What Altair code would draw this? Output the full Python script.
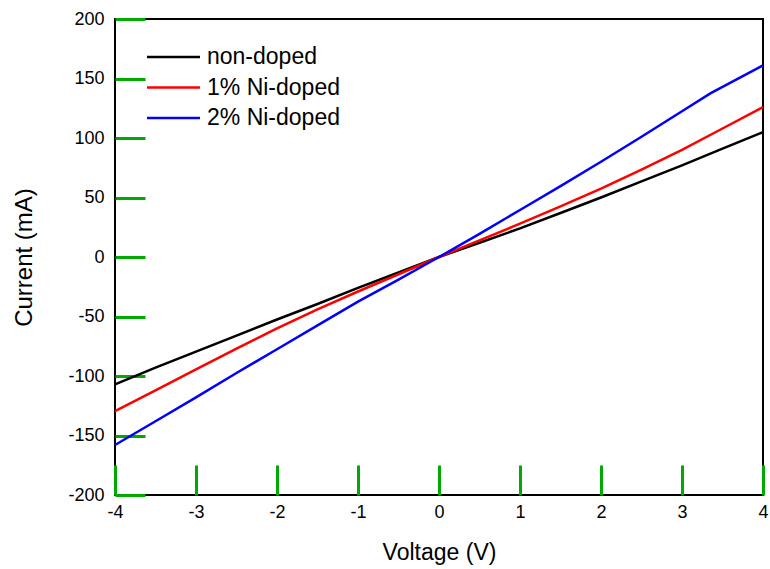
import altair as alt
import pandas as pd

# ---- data ----
voltage = [-4, -3.5, -3, -2.5, -2, -1.5, -1, -0.5, 0, 0.5, 1, 1.5, 2, 2.5, 3, 3.5, 4]
non_doped = [-107, -93, -79.5, -66, -52.5, -39.5, -26, -13, 0, 12, 24, 37, 50, 63.5, 77, 91, 105]
ni_1 = [-129.5, -112, -94.5, -77, -60, -44, -29, -14.5, 0, 14, 28, 42.5, 57.5, 73.5, 90, 108, 126]
voltage_2 = [-4, -3.5, -3, -2.5, -2, -1.5, -1, -0.5, 0, 0.5, 1, 1.5, 2, 2.5, 3, 3.35, 4]
ni_2 = [-158, -138, -118, -97.5, -77.5, -57.5, -37.5, -19, 0, 19.5, 39.5, 59.5, 80, 101, 122.5, 137.5, 161]

series_names = ["non-doped", "1% Ni-doped", "2% Ni-doped"]
series_colors = ["#000000", "#ff0000", "#0000ff"]

x_ticks = [-4, -3, -2, -1, 0, 1, 2, 3, 4]
y_ticks = [-200, -150, -100, -50, 0, 50, 100, 150, 200]

rows = []
for name, xs, vals in zip(series_names, [voltage, voltage, voltage_2], [non_doped, ni_1, ni_2]):
    for v, c in zip(xs, vals):
        rows.append({"Voltage": v, "Current": c, "Series": name})
df = pd.DataFrame(rows)

FONT = "Liberation Sans"
W, H = 648, 476
TICK = 30  # diagnostic: exaggerated inward ticks

xscale = alt.Scale(domain=[-4, 4], nice=False, zero=False)
yscale = alt.Scale(domain=[-200, 200], nice=False, zero=False)

x_axis = alt.Axis(values=x_ticks, domain=False, grid=False, offset=-TICK,
                  ticks=True, tickSize=TICK, tickWidth=3, tickColor="#00aa00",
                  labelFlush=False,
                  labelExpr="datum.value + ''", labelFontSize=18,
                  labelPadding=8, labelColor="#000", labelFont=FONT,
                  title="Voltage (V)", titleFontSize=23, titleFont=FONT,
                  titleFontWeight="normal", titleColor="#000",
                  titleBaseline="alphabetic", titleY=64 + TICK)
y_axis = alt.Axis(values=y_ticks, domain=False, grid=False, offset=-TICK,
                  ticks=True, tickSize=TICK, tickWidth=3, tickColor="#00aa00",
                  labelFlush=False,
                  labelExpr="datum.value + ''", labelFontSize=18,
                  labelPadding=11, labelColor="#000", labelFont=FONT,
                  title="Current (mA)", titleFontSize=24, titleFont=FONT,
                  titleFontWeight="normal", titleColor="#000",
                  titleBaseline="alphabetic", titleX=-84 - TICK, titleY=H / 2,
                  titleAngle=270)

chart = alt.Chart(df).mark_line(strokeWidth=2.5).encode(
    x=alt.X("Voltage:Q", scale=xscale, axis=x_axis),
    y=alt.Y("Current:Q", scale=yscale, axis=y_axis),
    color=alt.Color("Series:N",
                    scale=alt.Scale(domain=series_names, range=series_colors),
                    sort=series_names,
                    legend=alt.Legend(title=None, orient="none", legendX=47, legendY=26.5,
                                      symbolType="M-2.65,0H2.65", symbolSize=400,
                                      symbolStrokeWidth=2.5, labelFontSize=23,
                                      labelFont=FONT, labelColor="#000",
                                      labelOffset=22, rowPadding=6.5, padding=0)),
).properties(
    width=W, height=H,
    autosize=alt.AutoSizeParams(type="none"),
    padding={"left": 115, "top": 19, "right": 7, "bottom": 74},
    background="white",
).configure_view(stroke="black", strokeWidth=2)

chart.save("out.html", embed_options={"renderer": "svg", "actions": False})
